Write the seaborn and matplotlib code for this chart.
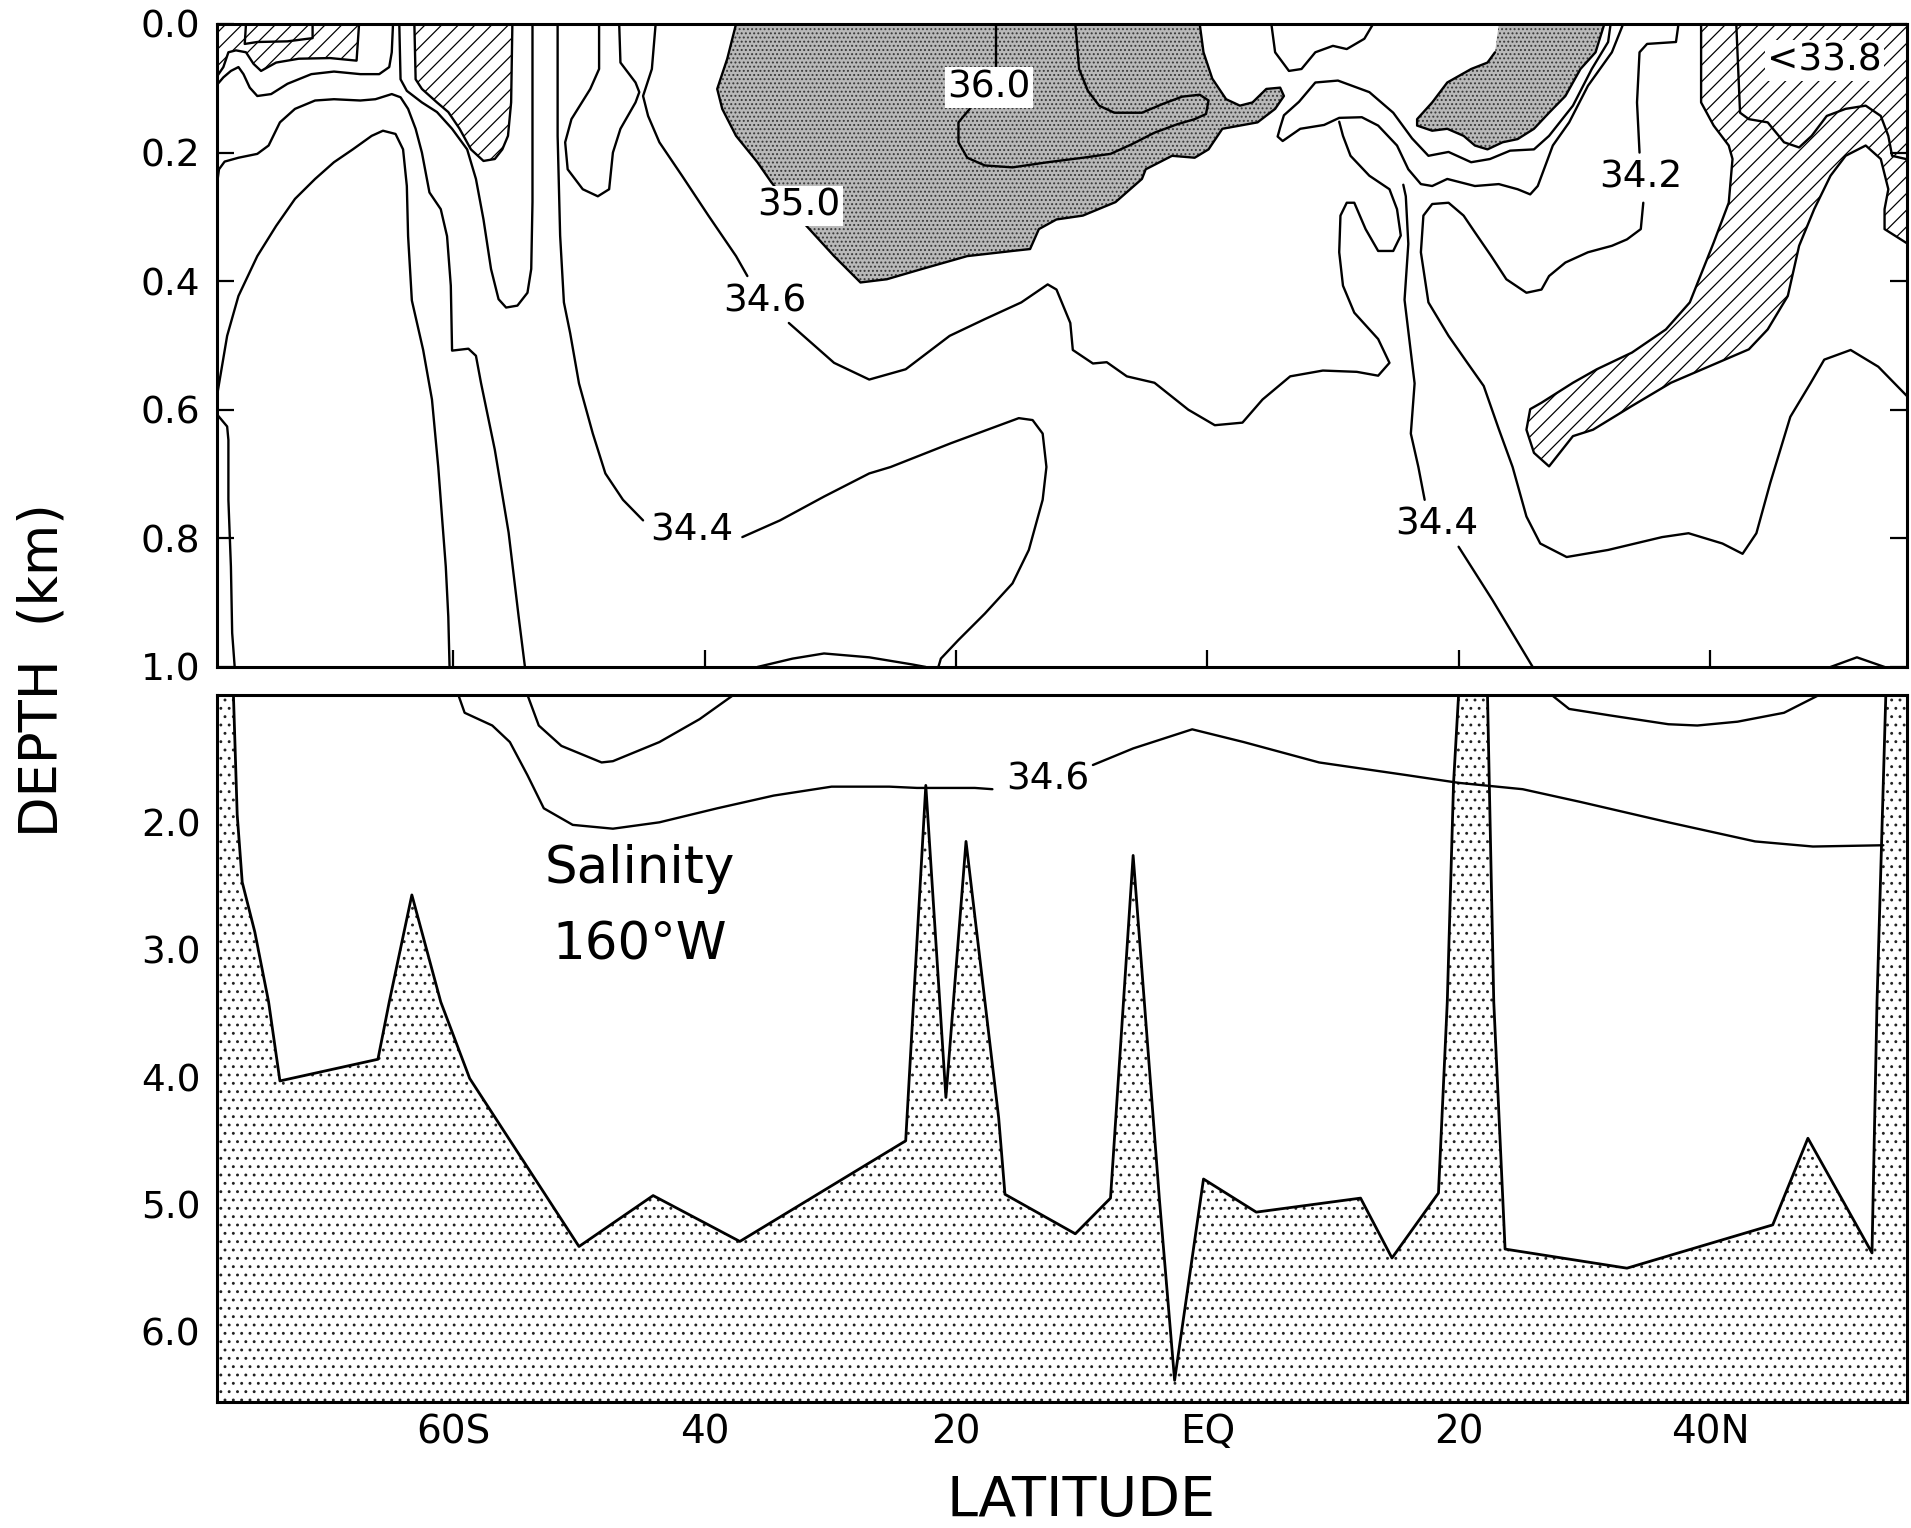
import matplotlib
matplotlib.use("Agg")
import matplotlib.pyplot as plt
import seaborn as sns

# latitude in degrees (south negative), depth in km

# ---------- upper panel (0 - 1 km) ----------
# hatched low-salinity patch, far south surface
tl_hatch_lat = [-79.1, -67.5, -67.7, -69.8, -72.3, -74.1, -75.3, -75.9, -76.5, -77.3, -77.9, -78.3, -79.1]
tl_hatch_dep = [0.0, 0.0, 0.057, 0.053, 0.054, 0.060, 0.073, 0.062, 0.044, 0.041, 0.044, 0.067, 0.090]
tl_inner_lat = [-76.5, -76.6, -75.6, -73.2, -71.2, -71.2]
tl_inner_dep = [0.0, 0.031, 0.028, 0.027, 0.022, 0.0]

line_b_lat = [-79.0, -78.3, -77.7, -77.1, -76.7, -76.2, -75.6, -74.5, -73.2, -71.3, -69.5, -67.4, -65.9, -65.1, -64.9, -64.8]
line_b_dep = [0.099, 0.083, 0.073, 0.067, 0.078, 0.099, 0.112, 0.109, 0.093, 0.078, 0.074, 0.078, 0.078, 0.067, 0.044, 0.0]

line_c_lat = [-79.0, -78.65, -78.2, -77.1, -75.6, -74.7, -73.8, -72.6, -71.0, -69.5, -67.4, -66.2, -64.9, -64.2, -63.6,
              -63.0, -62.5, -61.9, -61.0, -60.5, -60.2, -60.1, -58.8, -58.2, -57.8, -56.7, -55.6, -54.8, -54.3]
line_c_dep = [0.277, 0.226, 0.214, 0.208, 0.202, 0.189, 0.153, 0.132, 0.119, 0.117, 0.119, 0.117, 0.109, 0.114, 0.132,
              0.163, 0.200, 0.262, 0.288, 0.330, 0.407, 0.508, 0.505, 0.516, 0.558, 0.662, 0.791, 0.922, 1.0]

arch_lat = [-79.0, -78.9, -78.0, -77.1, -75.6, -74.1, -72.6, -71.0, -69.5, -68.0, -66.5, -65.6, -64.6, -64.0, -63.7,
            -63.6, -63.3, -62.4, -61.7, -61.2, -60.9, -60.6, -60.4, -60.3]
arch_dep = [0.595, 0.589, 0.485, 0.423, 0.361, 0.314, 0.272, 0.241, 0.215, 0.195, 0.174, 0.166, 0.171, 0.195, 0.252,
            0.330, 0.430, 0.507, 0.584, 0.689, 0.767, 0.844, 0.922, 1.0]

edge_lat = [-78.9, -78.0, -77.9, -77.9, -77.7, -77.6, -77.4]
edge_dep = [0.605, 0.626, 0.647, 0.740, 0.844, 0.947, 1.0]

u_lat = [-64.3, -64.2, -63.7, -62.5, -61.3, -60.1, -58.9, -58.2, -57.6, -57.0, -56.4, -55.8, -54.9, -54.1, -53.8,
         -53.7, -53.7, -53.7]
u_dep = [0.0, 0.086, 0.104, 0.122, 0.137, 0.163, 0.195, 0.241, 0.304, 0.381, 0.428, 0.441, 0.438, 0.418, 0.381,
         0.277, 0.122, 0.0]

u_hatch_lat = [-63.1, -63.0, -62.5, -61.3, -60.4, -59.5, -58.6, -57.6, -56.7, -56.1, -55.65, -55.4, -55.3]
u_hatch_dep = [0.0, 0.086, 0.101, 0.122, 0.137, 0.163, 0.195, 0.213, 0.210, 0.195, 0.174, 0.122, 0.0]

s344_w1_lat = [-51.7, -51.7, -51.5, -51.2, -50.7, -50.0, -48.9, -47.9, -46.5, -44.9]
s344_w1_dep = [0.0, 0.174, 0.329, 0.433, 0.481, 0.559, 0.637, 0.699, 0.740, 0.772]
s344_w2_lat = [-37.0, -34.0, -30.5, -26.9, -25.2, -20.4, -15.0, -13.9, -13.1, -12.8, -13.1, -14.2, -15.5, -17.7,
               -19.8, -21.2, -21.4]
s344_w2_dep = [0.798, 0.772, 0.735, 0.699, 0.689, 0.652, 0.613, 0.616, 0.637, 0.689, 0.740, 0.818, 0.870, 0.917,
               0.958, 0.987, 1.0]

dome_w_lat = [-35.8, -33.0, -30.5, -26.9, -23.5, -22.4]
dome_w_dep = [1.0, 0.987, 0.979, 0.985, 0.996, 1.0]

s346_a_lat = [-43.9, -44.2, -44.9, -44.5, -43.6, -41.8, -39.7, -37.5, -36.6]
s346_a_dep = [0.0, 0.070, 0.112, 0.143, 0.184, 0.236, 0.298, 0.361, 0.392]
s346_b_lat = [-33.3, -29.7, -26.9, -24.0, -20.5, -17.7, -14.8, -12.7, -12.0, -10.9, -10.7, -9.1, -8.0, -6.4, -4.2,
              -1.5, 0.6, 2.8, 4.4, 6.6, 9.2, 11.9, 13.6, 14.5, 13.6, 11.7, 10.8, 10.5, 10.6, 11.1, 11.7, 12.6,
              13.6, 14.8, 15.4, 15.1, 14.5, 12.9, 11.4, 10.8, 10.5]
s346_b_dep = [0.465, 0.527, 0.553, 0.537, 0.485, 0.459, 0.433, 0.405, 0.413, 0.465, 0.507, 0.528, 0.526, 0.548,
              0.558, 0.600, 0.624, 0.620, 0.584, 0.548, 0.539, 0.541, 0.547, 0.527, 0.490, 0.449, 0.407, 0.355,
              0.298, 0.278, 0.278, 0.319, 0.353, 0.353, 0.329, 0.288, 0.257, 0.236, 0.205, 0.174, 0.152]

loop45_lat = [-48.4, -48.4, -49.1, -50.6, -51.1, -50.9, -49.7, -48.5, -47.6, -47.3, -46.7, -45.5, -45.2, -45.5,
              -46.7, -46.8]
loop45_dep = [0.0, 0.070, 0.101, 0.148, 0.184, 0.226, 0.257, 0.268, 0.257, 0.200, 0.163, 0.122, 0.106, 0.091,
              0.060, 0.0]

# stippled high-salinity core (>35.0)
core_lat = [-37.5, -38.2, -39.0, -38.6, -37.5, -35.8, -34.7, -31.9, -29.7, -27.6, -25.5, -22.7, -19.1, -15.5,
            -14.1, -13.4, -12.0, -9.9, -7.3, -5.2, -4.9, -2.8, -1.0, 0.1, 1.2, 2.6, 4.0, 5.4, 6.1, 5.8, 4.7, 3.6,
            2.6, 1.5, 0.4, -0.3, -0.6]
core_dep = [0.0, 0.054, 0.101, 0.132, 0.174, 0.215, 0.246, 0.314, 0.361, 0.402, 0.397, 0.381, 0.361, 0.353,
            0.350, 0.319, 0.304, 0.298, 0.277, 0.241, 0.226, 0.205, 0.208, 0.195, 0.163, 0.158, 0.153, 0.132,
            0.112, 0.099, 0.101, 0.122, 0.127, 0.117, 0.085, 0.044, 0.0]

s360_a_lat = [-16.8, -16.8]
s360_a_dep = [0.0, 0.067]
s360_b_lat = [-18.9, -19.8, -19.8, -19.1, -17.7, -15.5, -12.7, -9.9, -7.7, -6.0, -4.2, -2.4, -1.0, -0.1, 0.1,
              -0.6, -2.0, -3.5, -5.2, -7.4, -8.6, -9.5, -10.2, -10.5]
s360_b_dep = [0.132, 0.153, 0.184, 0.208, 0.220, 0.223, 0.215, 0.208, 0.202, 0.187, 0.169, 0.156, 0.148, 0.140,
              0.119, 0.110, 0.113, 0.124, 0.138, 0.138, 0.127, 0.104, 0.070, 0.0]

dip_lat = [5.1, 5.4, 6.5, 7.5, 8.6, 10.0, 11.1, 12.5, 13.2]
dip_dep = [0.0, 0.044, 0.073, 0.070, 0.044, 0.034, 0.039, 0.023, 0.0]

tongue_n_lat = [32.1, 31.9, 30.6, 29.1, 27.2, 26.0, 24.1, 22.5, 21.0, 19.2, 17.6, 16.3, 14.8, 12.9, 10.4, 8.6,
                7.3, 6.1, 5.8, 5.6, 6.0, 7.4, 9.3, 10.5, 12.3, 13.6, 15.1, 16.0, 17.0, 17.9, 19.1, 21.3, 23.2,
                24.7, 25.7, 26.3, 27.5, 28.8, 30.3, 32.2, 33.1]
tongue_n_dep = [0.0, 0.028, 0.070, 0.127, 0.174, 0.195, 0.197, 0.210, 0.215, 0.199, 0.205, 0.178, 0.138, 0.106,
                0.088, 0.091, 0.121, 0.142, 0.161, 0.175, 0.182, 0.163, 0.157, 0.146, 0.145, 0.158, 0.189,
                0.226, 0.249, 0.252, 0.241, 0.252, 0.249, 0.257, 0.265, 0.252, 0.189, 0.153, 0.096, 0.044, 0.0]

core_n_lat = [23.2, 31.6, 30.9, 29.7, 28.5, 27.2, 26.0, 24.7, 23.5, 22.3, 21.3, 20.4, 19.1, 17.9, 16.7, 16.7,
              17.9, 19.1, 21.0, 22.3, 22.9]
core_n_dep = [0.0, 0.0, 0.044, 0.070, 0.112, 0.138, 0.163, 0.179, 0.184, 0.195, 0.189, 0.174, 0.163, 0.166,
              0.158, 0.148, 0.122, 0.091, 0.070, 0.060, 0.044]

s344_e1_lat = [15.6, 15.8, 16.0, 15.7, 16.5, 16.2, 16.8, 17.3]
s344_e1_dep = [0.25, 0.268, 0.342, 0.429, 0.559, 0.637, 0.689, 0.740]
s344_e2_lat = [20.0, 22.7, 25.9]
s344_e2_dep = [0.813, 0.896, 1.0]

s342_a_lat = [37.5, 37.3, 35.0, 34.4, 34.2, 34.4]
s342_a_dep = [0.0, 0.028, 0.031, 0.044, 0.122, 0.200]
s342_b_lat = [34.7, 34.5, 33.4, 32.2, 30.3, 28.5, 27.2, 26.6, 25.4, 23.8, 22.6, 21.3, 20.4, 19.2, 17.9, 17.2,
              17.0, 17.6, 19.2, 20.7, 22.0, 23.2, 24.3, 25.4, 26.5, 28.6, 31.9, 36.2, 38.3, 41.0, 42.6, 43.7,
              44.8, 46.4, 48.0, 49.1, 51.2, 53.4, 55.7]
s342_b_dep = [0.278, 0.319, 0.335, 0.345, 0.355, 0.371, 0.392, 0.413, 0.418, 0.397, 0.361, 0.324, 0.298, 0.278,
              0.280, 0.298, 0.355, 0.433, 0.485, 0.527, 0.563, 0.630, 0.689, 0.766, 0.808, 0.829, 0.818, 0.798,
              0.792, 0.808, 0.824, 0.792, 0.714, 0.611, 0.559, 0.522, 0.507, 0.533, 0.579]

# hatched low-salinity water, north (surface + intermediate tongue)
fresh_n_lat = [39.3, 39.3, 40.3, 41.5, 41.8, 41.5, 40.3, 38.4, 36.5, 33.8, 31.0, 29.1, 26.6, 25.7, 25.4, 26.0,
               27.2, 29.1, 30.7, 33.8, 36.9, 40.0, 43.1, 44.6, 46.2, 47.1, 48.3, 49.6, 50.8, 52.4, 53.6, 54.2,
               53.9, 53.9, 56.0, 56.0]
fresh_n_dep = [0.0, 0.122, 0.158, 0.189, 0.210, 0.278, 0.340, 0.433, 0.475, 0.511, 0.537, 0.558, 0.589, 0.599,
               0.631, 0.667, 0.688, 0.641, 0.631, 0.594, 0.558, 0.532, 0.506, 0.475, 0.423, 0.345, 0.288, 0.236,
               0.205, 0.189, 0.210, 0.257, 0.288, 0.319, 0.345, 0.0]
s338_lat = [42.1, 42.4, 43.1, 44.6, 45.9, 47.1, 48.1, 49.3, 50.8, 52.4, 53.6, 54.2, 54.5, 55.6]
s338_dep = [0.0, 0.138, 0.148, 0.153, 0.184, 0.192, 0.174, 0.143, 0.132, 0.127, 0.143, 0.174, 0.205, 0.210]

dome_e_lat = [49.6, 51.7, 53.9]
dome_e_dep = [1.0, 0.985, 1.0]

# ---------- lower panel (1 - 6.5 km) ----------
bottom_lat = [-77.5, -77.2, -76.8, -75.8, -74.7, -73.8, -66.0, -65.1, -63.3, -61.0, -58.7, -50.0, -44.1, -37.2,
              -24.0, -22.4, -20.8, -19.2, -16.6, -16.1, -10.5, -7.7, -5.9, -3.8, -2.6, -0.3, 3.9, 12.2, 14.7,
              18.4, 19.1, 19.6, 20.0, 22.3, 22.8, 23.7, 33.4, 45.0, 47.8, 52.9, 53.3, 54.0]
bottom_dep = [1.0, 1.94, 2.47, 2.86, 3.41, 4.03, 3.86, 3.41, 2.57, 3.41, 4.01, 5.33, 4.93, 5.29, 4.50, 1.71,
              4.16, 2.15, 4.32, 4.92, 5.23, 4.95, 2.26, 4.97, 6.38, 4.80, 5.06, 4.95, 5.42, 4.91, 3.41, 1.69,
              1.0, 1.0, 3.41, 5.35, 5.50, 5.16, 4.48, 5.38, 3.41, 1.0]

deep346_a_lat = [-59.6, -59.1, -56.9, -55.5, -54.1, -52.8, -50.5, -47.3, -43.6, -39.0, -34.5, -29.9, -25.3,
                 -23.1, -18.5, -17.1]
deep346_a_dep = [1.0, 1.14, 1.24, 1.37, 1.63, 1.89, 2.02, 2.05, 2.00, 1.89, 1.79, 1.72, 1.72, 1.73, 1.73, 1.74]
deep346_b_lat = [-9.1, -5.9, -1.2, 2.9, 8.9, 15.9, 20.0, 25.1, 29.7, 36.7, 43.6, 48.2, 53.8]
deep346_b_dep = [1.55, 1.42, 1.27, 1.37, 1.53, 1.63, 1.69, 1.74, 1.84, 2.00, 2.15, 2.19, 2.18]

trough_w_lat = [-54.1, -53.2, -51.4, -48.2, -47.3, -43.6, -40.4, -37.7]
trough_w_dep = [1.0, 1.24, 1.40, 1.53, 1.52, 1.37, 1.19, 1.0]
trough_e_lat = [27.4, 28.8, 32.0, 36.7, 39.0, 42.2, 45.9, 48.7]
trough_e_dep = [1.0, 1.11, 1.16, 1.23, 1.24, 1.21, 1.14, 1.0]

lat_ticks = [-60, -40, -20, 0, 20, 40]
lat_labels = ["60S", "40", "20", "EQ", "20", "40N"]
top_ticks = [0.0, 0.2, 0.4, 0.6, 0.8, 1.0]
low_ticks = [2.0, 3.0, 4.0, 5.0, 6.0]

sns.set_theme(style="white")
plt.rcParams["font.family"] = ["DejaVu Sans"]
plt.rcParams["hatch.linewidth"] = 0.9
plt.rcParams["text.color"] = "black"
plt.rcParams["xtick.color"] = "black"
plt.rcParams["ytick.color"] = "black"

fig = plt.figure(figsize=(19.11, 15.28), dpi=100)
ax1 = fig.add_axes([0.1136, 0.5635, 0.8844, 0.4208])
ax2 = fig.add_axes([0.1136, 0.0825, 0.8844, 0.4627])


def trace(ax, lat, dep, lw=1.7):
    sns.lineplot(x=lat, y=dep, sort=False, estimator=None, color="black",
                 linewidth=lw, ax=ax, legend=False)


def stipple(ax, lat, dep):
    ax.fill(lat, dep, facecolor="#b9b9b9", edgecolor="none", zorder=1)
    ax.fill(lat, dep, facecolor="none", edgecolor="#383838", hatch="....", linewidth=0, zorder=1.1)


def hatched(ax, lat, dep):
    ax.fill(lat, dep, facecolor="none", edgecolor="black", hatch="//", linewidth=0, zorder=1)


# upper panel
hatched(ax1, tl_hatch_lat, tl_hatch_dep)
hatched(ax1, u_hatch_lat, u_hatch_dep)
hatched(ax1, fresh_n_lat, fresh_n_dep)
stipple(ax1, core_lat, core_dep)
stipple(ax1, core_n_lat, core_n_dep)

for lat, dep in [(tl_hatch_lat, tl_hatch_dep), (tl_inner_lat, tl_inner_dep), (line_b_lat, line_b_dep),
                 (line_c_lat, line_c_dep), (arch_lat, arch_dep), (edge_lat, edge_dep), (u_lat, u_dep),
                 (u_hatch_lat, u_hatch_dep), (s344_w1_lat, s344_w1_dep), (s344_w2_lat, s344_w2_dep),
                 (dome_w_lat, dome_w_dep), (s346_a_lat, s346_a_dep), (s346_b_lat, s346_b_dep),
                 (loop45_lat, loop45_dep), (core_lat, core_dep), (s360_a_lat, s360_a_dep),
                 (s360_b_lat, s360_b_dep), (dip_lat, dip_dep), (tongue_n_lat, tongue_n_dep),
                 (core_n_lat, core_n_dep), (s344_e1_lat, s344_e1_dep), (s344_e2_lat, s344_e2_dep),
                 (s342_a_lat, s342_a_dep), (s342_b_lat, s342_b_dep), (fresh_n_lat, fresh_n_dep),
                 (s338_lat, s338_dep), (dome_e_lat, dome_e_dep)]:
    trace(ax1, lat, dep)

lab = dict(ha="center", va="center", fontsize=27, color="black", zorder=5)
box = dict(facecolor="white", edgecolor="none", pad=1.5)
ax1.text(-32.5, 0.283, "35.0", bbox=box, **lab)
ax1.text(-17.4, 0.099, "36.0", bbox=box, **lab)
ax1.text(-35.2, 0.432, "34.6", **lab)
ax1.text(-41.0, 0.787, "34.4", **lab)
ax1.text(18.3, 0.778, "34.4", **lab)
ax1.text(34.5, 0.239, "34.2", bbox=box, **lab)
ax1.text(49.1, 0.057, "<33.8", bbox=box, **lab)

# lower panel
x_lo, x_hi = -78.8, 55.7
floor_lat = [x_lo - 1] + bottom_lat + [x_hi + 1, x_hi + 1, x_lo - 1]
floor_dep = [1.0] + bottom_dep + [1.0, 6.6, 6.6]
ax2.fill(floor_lat, floor_dep, facecolor="white", edgecolor="#222222", hatch="..", linewidth=0, zorder=1)
trace(ax2, bottom_lat, bottom_dep, lw=2.0)
for lat, dep in [(deep346_a_lat, deep346_a_dep), (deep346_b_lat, deep346_b_dep),
                 (trough_w_lat, trough_w_dep), (trough_e_lat, trough_e_dep)]:
    trace(ax2, lat, dep)
ax2.text(-12.7, 1.66, "34.6", **lab)
ax2.text(-45.2, 2.37, "Salinity", ha="center", va="center", fontsize=37, color="black")
ax2.text(-45.2, 2.97, "160°W", ha="center", va="center", fontsize=37, color="black")

for ax in (ax1, ax2):
    ax.set_xlim(x_lo, x_hi)
    ax.set_xlabel("")
    ax.set_ylabel("")
    ax.set_xticks(lat_ticks)
    for sp in ax.spines.values():
        sp.set_color("black")
        sp.set_linewidth(2.2)
    ax.tick_params(axis="both", direction="in", length=12, width=1.6, colors="black",
                   bottom=True, left=True, right=True, top=False, pad=12)

ax1.set_ylim(1.0, 0.0)
ax1.set_yticks(top_ticks)
ax1.set_yticklabels([f"{v:.1f}" for v in top_ticks], fontsize=27)
ax1.tick_params(axis="x", labelbottom=False)

ax2.set_ylim(6.55, 1.0)
ax2.set_yticks(low_ticks)
ax2.set_yticklabels([f"{v:.1f}" for v in low_ticks], fontsize=27)
ax2.set_xticklabels(lat_labels, fontsize=28)
ax2.tick_params(axis="x", pad=8)

fig.text(0.0225, 0.5615, "DEPTH  (km)", rotation=90, ha="center", va="center", fontsize=38, color="black")
fig.text(0.5657, 0.0177, "LATITUDE", ha="center", va="center", fontsize=40, color="black")

fig.savefig("out.png", dpi=100)
